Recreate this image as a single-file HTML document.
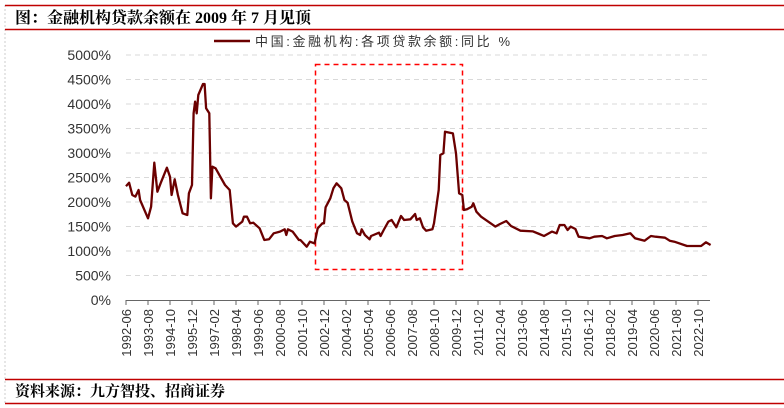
<!DOCTYPE html>
<html><head><meta charset="utf-8"><style>
html,body{margin:0;padding:0;background:#fff;width:784px;height:408px;overflow:hidden}
svg{display:block;font-family:"Liberation Sans","Noto Sans CJK SC",sans-serif}
</style></head><body>
<svg id="chart" width="784" height="408" viewBox="0 0 784 408">
<line x1="5" y1="5" x2="5" y2="403" stroke="#ccc" stroke-dasharray="2,2"/>
<line x1="5" y1="5.5" x2="784" y2="5.5" stroke="#c00000" stroke-width="1.5"/>
<text x="15" y="23" font-family="Liberation Serif,'Noto Serif CJK SC',serif" font-size="16" font-weight="bold" fill="#000">图：金融机构贷款余额在 2009 年 7 月见顶</text>
<line x1="5" y1="29.5" x2="784" y2="29.5" stroke="#c00000" stroke-width="1.5"/>
<g>
<line x1="214" y1="41" x2="250" y2="41" stroke="#6b0000" stroke-width="2.5"/>
<text x="255" y="46" font-size="13" fill="#333" textLength="255" lengthAdjust="spacing">中国:金融机构:各项贷款余额:同比 %</text>
</g>
<g id="grid"></g><g id="yaxis"></g><g id="xaxis"></g>
<rect x="315.5" y="64.5" width="147" height="205" fill="none" stroke="#ff0000" stroke-width="1.5" stroke-dasharray="5,4"/>
<path id="line" fill="none" stroke="#6b0000" stroke-width="2.3" stroke-linejoin="round"/>
<line x1="5" y1="379.5" x2="784" y2="379.5" stroke="#c00000" stroke-width="1.5"/>
<text x="15" y="396" font-family="Liberation Serif,'Noto Serif CJK SC',serif" font-size="15" font-weight="bold" fill="#000">资料来源：九方智投、招商证券</text>
<line x1="5" y1="403.5" x2="784" y2="403.5" stroke="#c00000" stroke-width="1.5"/>
</svg>
<script>
// months since 1992-06
const months=[0,2,4,6,8,9,14,16,18,20,22,26,28,29,31,33,36,39,40,42,43,44,45,46,49,50,51,53,54,55,57,60,63,66,68,70,74,75,77,79,81,85,88,91,94,98,101,102,103,106,110,111,115,117,120,122,125,126,127,130,132,134,137,139,141,144,147,149,150,152,155,156,161,162,164,167,169,172,175,177,181,184,185,187,189,191,195,196,199,200,202,203,208,210,212,214,215,217,220,221,223,226,233,235,238,242,245,251,259,263,266,271,274,276,279,281,283,286,288,295,298,303,306,311,316,321,324,330,334,337,343,346,349,357,361,366,369,372];
const values=[2323,2394,2143,2110,2245,2041,1667,1905,2802,2211,2381,2700,2517,2143,2463,2143,1769,1735,2177,2347,3810,4048,3810,4184,4408,4408,3912,3810,2075,2721,2687,2517,2347,2245,1565,1497,1599,1701,1701,1565,1578,1463,1224,1238,1361,1395,1442,1327,1442,1395,1224,1224,1088,1190,1156,1463,1565,1565,1891,2075,2279,2381,2279,2041,1986,1599,1361,1327,1442,1327,1238,1306,1374,1306,1429,1599,1633,1484,1714,1633,1647,1755,1633,1667,1484,1415,1442,1565,2245,2959,2993,3435,3401,2993,2177,2143,1837,1851,1905,1973,1803,1701,1544,1497,1551,1612,1510,1415,1401,1347,1306,1395,1361,1531,1531,1429,1497,1449,1292,1259,1292,1306,1259,1306,1327,1361,1259,1210,1306,1292,1272,1210,1190,1102,1102,1102,1177,1122];
const yTicks=[0,500,1000,1500,2000,2500,3000,3500,4000,4500,5000];
const xLabels=["1992-06","1993-08","1994-10","1995-12","1997-02","1998-04","1999-06","2000-08","2001-10","2002-12","2004-02","2005-04","2006-06","2007-08","2008-10","2009-12","2011-02","2012-04","2013-06","2014-08","2015-10","2016-12","2018-02","2019-04","2020-06","2021-08","2022-10"];
const NS="http://www.w3.org/2000/svg";
const X0=126,X1=710,Y0=300,Y1=55;
const xs=m=>X0+m*(22/14);
const ys=v=>Y0-(v/5000)*(Y0-Y1);
const grid=document.getElementById('grid'),ya=document.getElementById('yaxis'),xa=document.getElementById('xaxis');
function mk(t,a,p){const e=document.createElementNS(NS,t);for(const k in a)e.setAttribute(k,a[k]);p.appendChild(e);return e;}
yTicks.forEach(v=>{
 if(v>0){const g=mk('line',{x1:X0,x2:X1,y1:ys(v),y2:ys(v),stroke:'#d9d9d9','stroke-dasharray':'5,4'},grid);
 
 }
 const t=mk('text',{x:111,y:ys(v)+5,'text-anchor':'end','font-size':'14',fill:'#333'},ya);
 t.textContent=v+'%';
 
 
});
const ax=mk('line',{x1:X0,x2:X1,y1:Y0+0.5,y2:Y0+0.5,stroke:'#666'},xa);


xLabels.forEach((l,i)=>{
 const x=xs(i*14);
 const tk=mk('line',{x1:x,x2:x,y1:Y0,y2:Y0+5,stroke:'#666'},xa);
 
 
 const t=mk('text',{x:0,y:0,'text-anchor':'end','font-size':'13',fill:'#333',transform:`translate(${x+5},${Y0+9}) rotate(-90)`},xa);
 t.textContent=l;
 
 
});
document.getElementById('line').setAttribute('d',months.map((m,i)=>(i?'L':'M')+xs(m).toFixed(1)+','+ys(values[i]).toFixed(1)).join(''));
</script>
</body></html>
